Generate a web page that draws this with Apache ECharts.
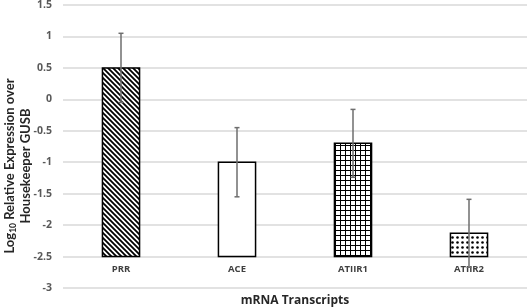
<!DOCTYPE html>
<html>
<head>
<meta charset="utf-8">
<script src="https://cdn.jsdelivr.net/npm/echarts@6/dist/echarts.min.js"></script>
<style>
  html, body { margin: 0; padding: 0; background: #fff; }
  #chart { width: 529px; height: 308px; }
</style>
</head>
<body>
<div id="chart"></div>
<script>
const categories = ['PRR', 'ACE', 'ATIIR1', 'ATIIR2']
const values = [0.5, -1.0, -0.7, -2.13]
const errors = [0.55, 0.55, 0.54, 0.54]
const baseline = -2.5

// fill patterns, one per bar
const makePattern = (draw) => {
    const c = document.createElement('canvas')
    c.width = 5
    c.height = 5
    const ctx = c.getContext('2d')
    ctx.fillStyle = '#fff'
    ctx.fillRect(0, 0, 5, 5)
    ctx.strokeStyle = '#000'
    ctx.fillStyle = '#000'
    draw(ctx)
    return { image: c, repeat: 'repeat' }
}

const patterns = [
    makePattern(ctx => {
        ctx.lineWidth = 1.8
        ctx.beginPath()
        ctx.moveTo(-1, -1); ctx.lineTo(6, 6)
        ctx.moveTo(-1, 4); ctx.lineTo(1, 6)
        ctx.moveTo(4, -1); ctx.lineTo(6, 1)
        ctx.stroke()
    }),
    '#fff',
    makePattern(ctx => {
        ctx.fillRect(0, 0, 5, 1)
        ctx.fillRect(0, 0, 1, 5)
    }),
    makePattern(ctx => {
        ctx.beginPath()
        ctx.arc(2.5, 2.5, 1.3, 0, Math.PI * 2)
        ctx.fill()
    })
]

const chart = echarts.init(document.getElementById('chart'))

const option = {
    animation: false,
    textStyle: { fontFamily: 'Open Sans' },
    grid: { left: 63, right: 2, top: 5, bottom: 20, containLabel: false, outerBoundsMode: 'none' },
    graphic: [
        {
            // y axis title, drawn as text so the subscript sits right
            type: 'text',
            x: 18,
            y: 166,
            rotation: Math.PI / 2,
            style: {
                text: '{b|Log}{s|10}{b| Relative Expression over}\n{b|Housekeeper GUSB}',
                align: 'center',
                verticalAlign: 'middle',
                fill: '#262626',
                rich: {
                    b: { fontFamily: 'Lato', fontSize: 13, fontWeight: 'bold', fill: '#262626', lineHeight: 16 },
                    s: { fontFamily: 'Lato', fontSize: 8.5, fontWeight: 'bold', fill: '#262626', verticalAlign: 'bottom', lineHeight: 12 }
                }
            }
        }
    ],
    xAxis: {
        type: 'category',
        data: categories,
        name: 'mRNA Transcripts',
        nameLocation: 'middle',
        nameGap: 7,
        nameTextStyle: { fontSize: 12, fontWeight: 'bold', color: '#262626' },
        axisLine: { show: false },
        axisTick: { show: false },
        axisLabel: { margin: -24, fontSize: 9.5, fontWeight: 'bold', color: '#404040' }
    },
    yAxis: {
        type: 'value',
        min: -3,
        max: 1.5,
        interval: 0.5,
        axisLine: { show: false },
        axisTick: { show: false },
        axisLabel: { margin: 11, fontSize: 10.5, fontWeight: 'bold', color: '#595959' },
        splitLine: { lineStyle: { color: '#d9d9d9', width: 1.5 } }
    },
    series: [
        {
            type: 'custom',
            data: values.map((v, i) => [i, v]),
            renderItem: (params, api) => {
                const i = api.value(0)
                const top = api.coord([i, api.value(1)])
                const bottom = api.coord([i, baseline])
                const w = api.size([1, 0])[0] * 0.32
                return {
                    type: 'rect',
                    shape: { x: top[0] - w / 2, y: top[1], width: w, height: bottom[1] - top[1] },
                    style: { fill: patterns[i], stroke: '#000', lineWidth: 1.5 }
                }
            },
            z: 2
        },
        {
            type: 'custom',
            data: values.map((v, i) => [i, v - errors[i], v + errors[i]]),
            renderItem: (params, api) => {
                const i = api.value(0)
                const lo = api.coord([i, api.value(1)])
                const hi = api.coord([i, api.value(2)])
                const cap = 2.5
                const st = { stroke: '#6e6e6e', lineWidth: 1.5 }
                return {
                    type: 'group',
                    children: [
                        { type: 'line', shape: { x1: lo[0], y1: lo[1], x2: hi[0], y2: hi[1] }, style: st },
                        { type: 'line', shape: { x1: hi[0] - cap, y1: hi[1], x2: hi[0] + cap, y2: hi[1] }, style: st },
                        { type: 'line', shape: { x1: lo[0] - cap, y1: lo[1], x2: lo[0] + cap, y2: lo[1] }, style: st }
                    ]
                }
            },
            z: 3
        }
    ]
}

chart.setOption(option)
</script>
</body>
</html>
